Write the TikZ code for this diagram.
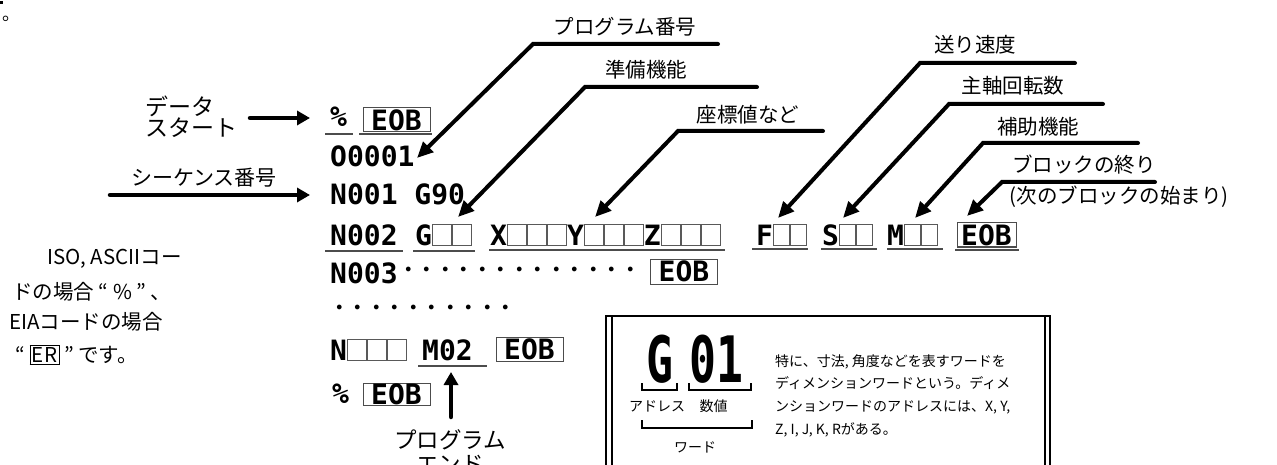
\documentclass[tikz,border=0pt]{standalone}
\usepackage{fontspec}
\usetikzlibrary{arrows.meta}
\newfontfamily\jp[BoldFont=Noto Sans CJK JP Bold]{Noto Sans CJK JP}
\newfontfamily\codefont{DejaVu Sans Mono}
\newfontfamily\bigcodefont[FakeStretch=0.7]{DejaVu Sans Mono}
\newcommand\sq{{\color{gray!70!black}\setlength\fboxsep{0pt}\setlength\fboxrule{0.9pt}\fbox{\rule{0pt}{20.5pt}\hspace{18.2pt}}}}
\newcommand\sqs{{\color{gray!70!black}\setlength\fboxsep{0pt}\setlength\fboxrule{0.9pt}\fbox{\rule{0pt}{20.5pt}\hspace{15.2pt}}}}
\newcommand\erbox{{\setlength\fboxsep{1.5pt}\setlength\fboxrule{1pt}\fbox{ER}}}
\begin{document}
\begin{tikzpicture}[x=1pt,y=-1pt,
  code/.style={font=\codefont\bfseries\fontsize{28}{28}\selectfont, inner sep=0pt, anchor=base west},
  eob/.style={draw=gray!60!black, line width=1pt, inner sep=0pt, font=\codefont\bfseries\fontsize{28}{28}\selectfont, minimum height=24pt, minimum width=67pt},
  lbl/.style={font=\jp\fontsize{20.5}{22}\selectfont, inner sep=0pt},
  big/.style={font=\bigcodefont\bfseries\fontsize{64}{64}\selectfont, inner sep=0pt, anchor=base},
  small/.style={font=\jp\fontsize{14}{22.7}\selectfont, inner sep=0pt},
  lt/.style={font=\jp\fontsize{20.5}{20.5}\selectfont, inner sep=0pt, anchor=west},
  dotrow/.style={font=\jp\bfseries\fontsize{18.5}{18.5}\selectfont, inner sep=0pt, anchor=west},
  callout/.style={line width=4pt, -{Triangle[length=16pt,width=14pt]}, line cap=round},
  harrow/.style={line width=4.5pt, -{Triangle[length=13pt,width=14pt]}, line cap=round},
  uline/.style={gray!60!black, line width=1.3pt},
  brk/.style={line width=1.3pt},
]
\useasboundingbox (0,0) rectangle (1277,465);
\clip (0,0) rectangle (1277,465);

% clipped fragments at top left
\fill (0,1) rectangle (3,4);
\node[inner sep=0pt, anchor=base west, font=\jp\fontsize{18}{18}\selectfont] (frag) at (2,21) {。};

% left labels and arrows
\node[lbl, font=\jp\fontsize{23}{21}\selectfont, align=left, anchor=west] (ds) at (145,117) {データ\\スタート};
\coordinate (dsA) at (250,118);
\coordinate (dsB) at (310,118);
\draw[harrow] (dsA) -- (dsB);
\node[lbl, font=\jp\fontsize{21}{21}\selectfont] (seq) at (204,178) {シーケンス番号};
\coordinate (seqA) at (110,195);
\coordinate (seqB) at (310,195);
\draw[harrow] (seqA) -- (seqB);

% program rows
\node[code] (pct1) at (330,127) {\%};
\node[eob] (eob1) at (396.5,120) {EOB};
\node[code] (o1) at (330,167) {O0001};
\node[code] (n1) at (330,205) {N001 G90};
\node[code] (n2) at (330,245) {N002};
\node[code] (g2) at (415,245) {G\sq\sq};
\node[code] (xyz) at (490,245) {X\sq\sq\sq Y\sq\sq\sq Z\sq\sq\sq};
\node[code] (f2) at (756,245) {F\sqs\sqs};
\node[code] (s2) at (822,245) {S\sqs\sqs};
\node[code] (m2) at (887,245) {M\sqs\sqs};
\node[eob, minimum width=59pt] (eob2) at (986.5,235) {EOB};
\node[code] (n3) at (330,283) {N003};
\node[dotrow] (d1) at (399,272) {・・・・・・・・・・・・・};
\node[eob, minimum height=25pt] (eob3) at (684,271.5) {EOB};
\node[dotrow] (d2) at (330,310) {・・・・・・・・・・};
\node[code] (nl) at (330,360) {N\sq\sq\sq};
\node[code] (m02) at (422,360) {M02};
\node[eob] (eob4) at (529.5,349.5) {EOB};
\node[code] (pct2) at (332,403) {\%};
\node[eob, minimum height=22pt] (eob5) at (396.5,394) {EOB};

% underlines
\draw[uline] (325,134) -- (353,134);
\draw[uline] (359,134) -- (432,134);
\draw[uline] (325,251) -- (403,251);
\draw[uline] (413,251) -- (475,251);
\draw[uline] (489,250) -- (725,250);
\draw[uline] (752,249) -- (808,249);
\draw[uline] (821,249) -- (877,249);
\draw[uline] (887,249) -- (943,249);
\draw[uline] (955,250) -- (1019,250);
\draw[uline] (418,366) -- (487,366);

% callouts
\node[lbl] (c1) at (625,27) {プログラム番号};
\coordinate (c1e) at (718,44); \coordinate (c1c) at (533,44); \coordinate (t1) at (417,158);
\draw[callout] (c1e) -- (c1c) -- (t1);
\node[lbl] (c2) at (646,70) {準備機能};
\coordinate (c2e) at (757,87); \coordinate (c2c) at (585,87); \coordinate (t2) at (458,217);
\draw[callout] (c2e) -- (c2c) -- (t2);
\node[lbl] (c3) at (748,115) {座標値など};
\coordinate (c3e) at (823,131); \coordinate (c3c) at (678,131); \coordinate (t3) at (595,217);
\draw[callout] (c3e) -- (c3c) -- (t3);
\node[lbl] (c4) at (975,45) {送り速度};
\coordinate (c4e) at (1075,63); \coordinate (c4c) at (920,63); \coordinate (t4) at (778,218);
\draw[callout] (c4e) -- (c4c) -- (t4);
\node[lbl] (c5) at (1013,86) {主軸回転数};
\coordinate (c5e) at (1103,104); \coordinate (c5c) at (949,104); \coordinate (t5) at (843,218);
\draw[callout] (c5e) -- (c5c) -- (t5);
\node[lbl] (c6) at (1038,127) {補助機能};
\coordinate (c6e) at (1138,143); \coordinate (c6c) at (983,143); \coordinate (t6) at (915,218);
\draw[callout] (c6e) -- (c6c) -- (t6);
\node[lbl] (c7) at (1084,165) {ブロックの終り};
\node[lbl] (c7b) at (1119,197) {(次のブロックの始まり)};
\coordinate (c7e) at (1155,182); \coordinate (c7c) at (1002,182); \coordinate (t7) at (967,216);
\draw[callout] (c7e) -- (c7c) -- (t7);

% program end
\node[lbl, font=\jp\fontsize{22.5}{24}\selectfont, align=center] (pe) at (450,452) {プログラム\\エンド};
\coordinate (peA) at (451,417);
\coordinate (peB) at (451,372);
\draw[harrow] (peA) -- (peB);

% left note
\node[lt] (iso1) at (47,259) {ISO, ASCIIコー};
\node[lt] (iso2) at (12,292) {ドの場合 “ \% ” 、};
\node[lt] (iso3) at (9,322) {EIAコードの場合};
\node[lt] (iso4) at (15,355) {“ \erbox{} ” です。};

% explanation box
\draw[line width=2pt] (606,480) -- (606,316) -- (1050,316) -- (1050,480);
\draw[line width=1.2pt] (612,316) -- (612,480);
\draw[line width=1.2pt] (1045,316) -- (1045,480);
\node[big] (bg) at (660,382) {G};
\node[big] (b01) at (716.5,382) {01};
\draw[brk] (642,383) -- (642,390) -- (677,390) -- (677,383);
\draw[brk] (689,383) -- (689,390) -- (751,390) -- (751,383);
\draw[brk] (642,420) -- (642,428) -- (752,428) -- (752,420);
\node[small] (adr) at (657,406) {アドレス};
\node[small] (val) at (713.5,406) {数値};
\node[small] (wd) at (695,447) {ワード};
\node[small, anchor=north west, align=left] (desc) at (775,354) {特に、寸法, 角度などを表すワードを\\ディメンションワードという。ディメ\\ンションワードのアドレスには、X, Y,\\Z, I, J, K, Rがある。};
\end{tikzpicture}
\end{document}
